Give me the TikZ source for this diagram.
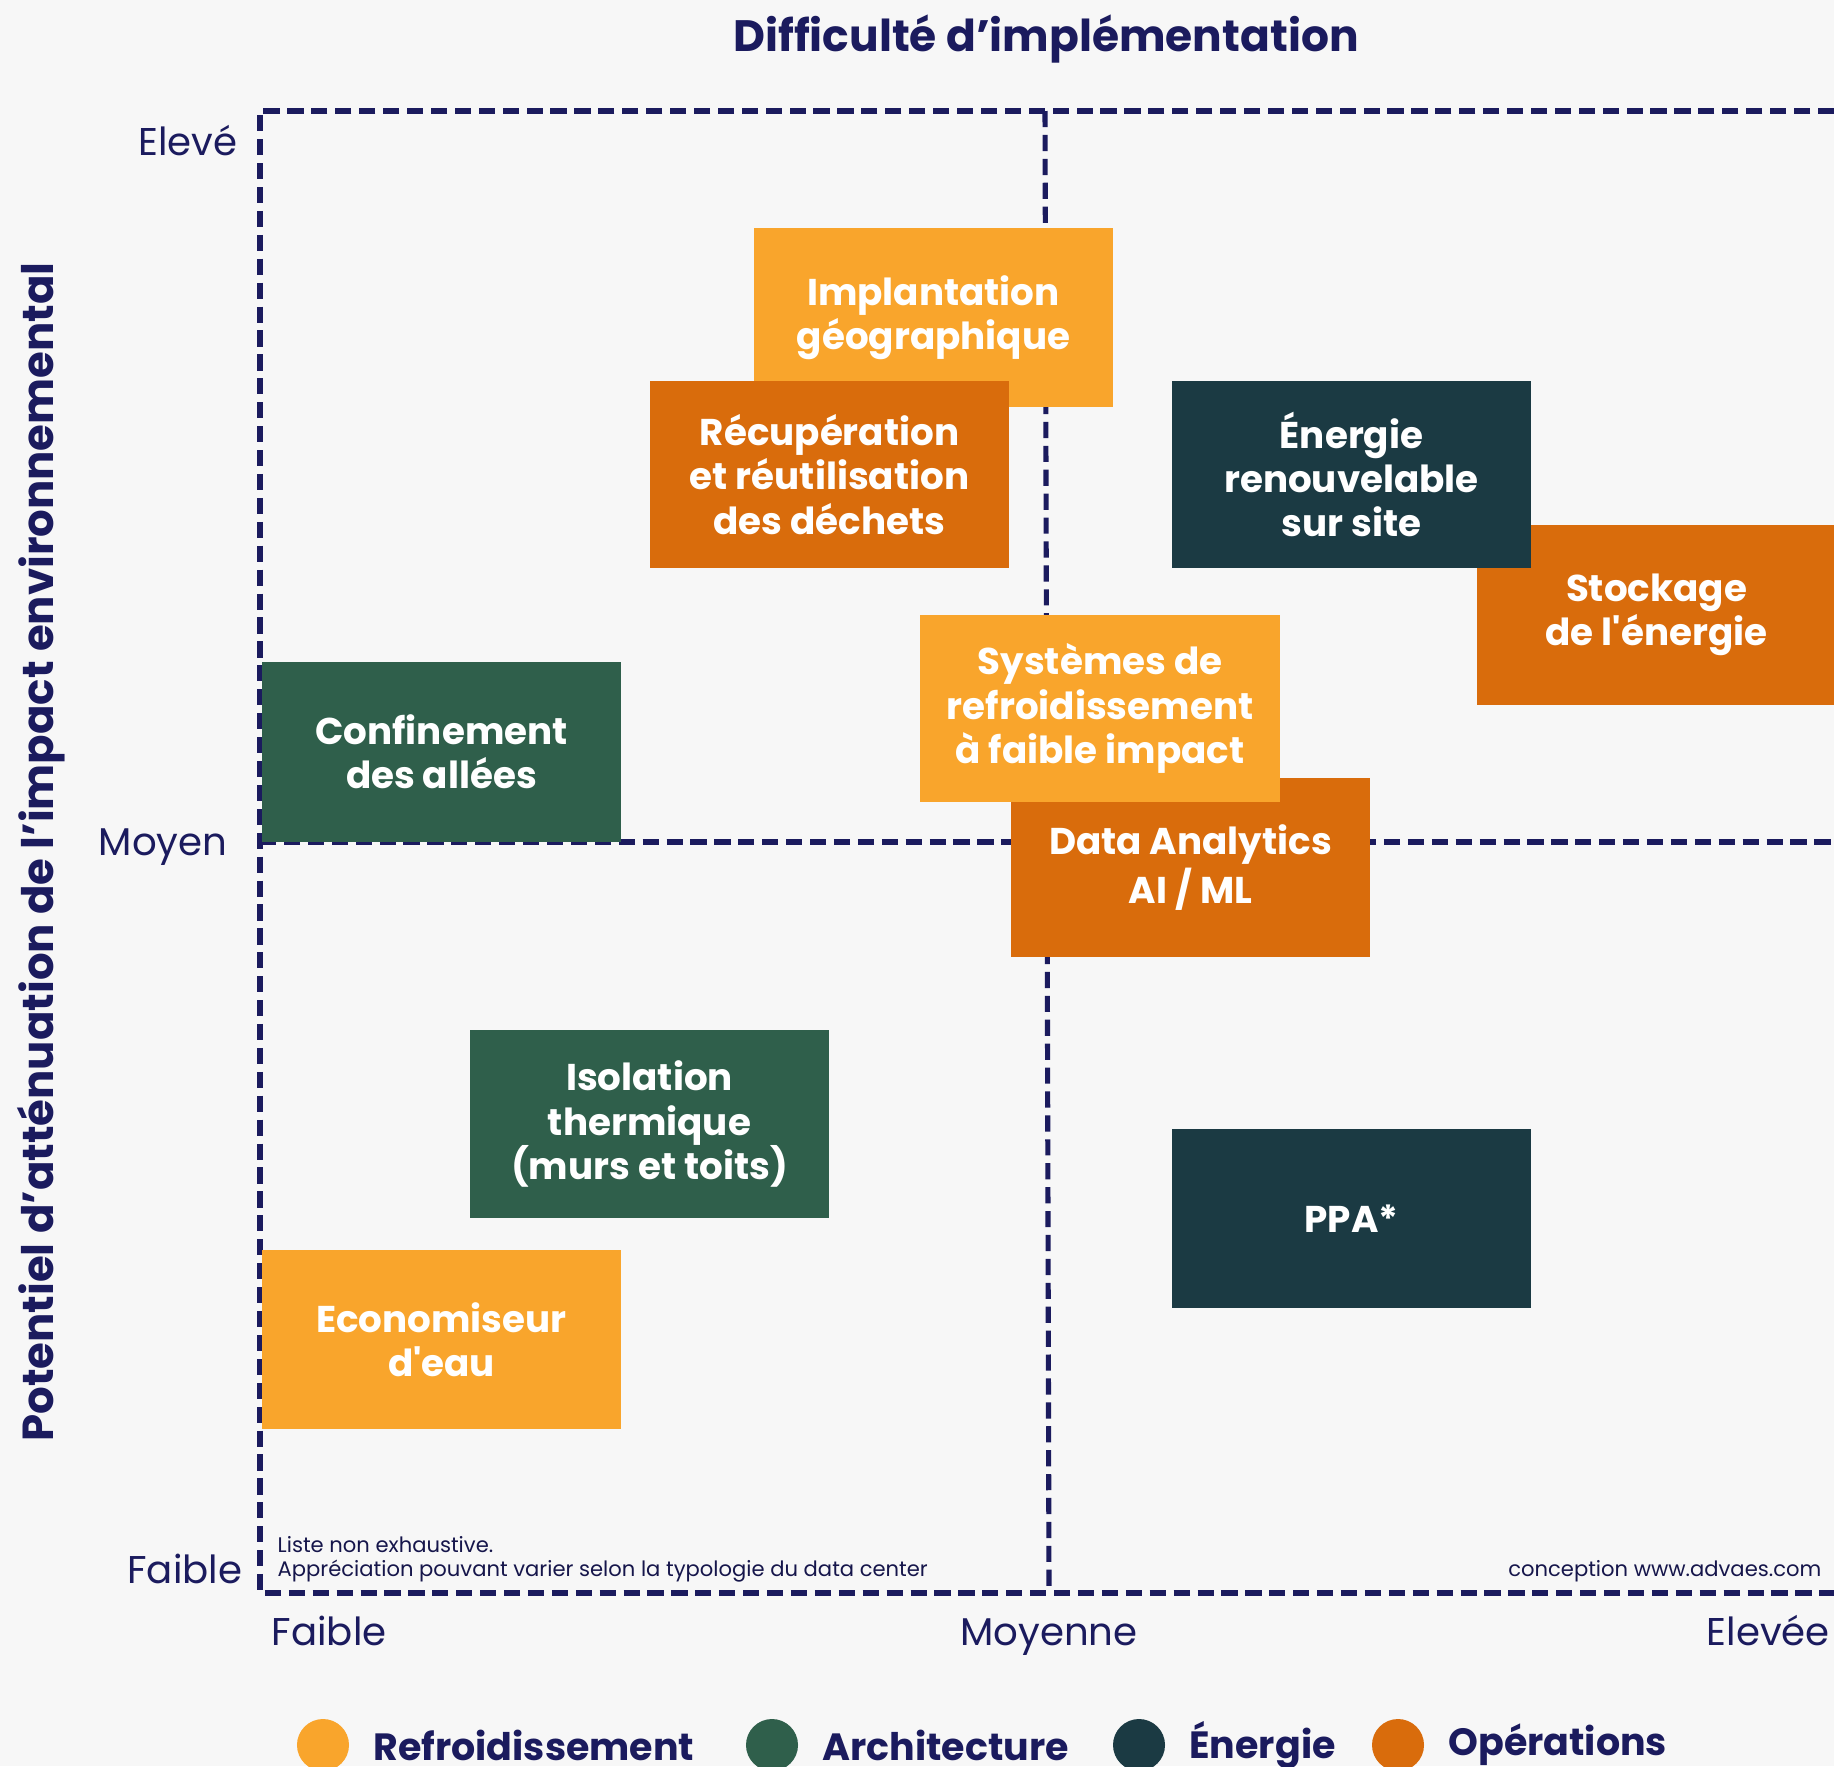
\documentclass[tikz,border=0pt]{standalone}
\usepackage{fontspec}
\setmainfont{Poppins}
\definecolor{navy}{HTML}{1B1B5E}
\definecolor{paper}{HTML}{F7F7F7}
\definecolor{refroid}{HTML}{F9A52C}
\definecolor{archi}{HTML}{2F5F4B}
\definecolor{energ}{HTML}{1B3A43}
\definecolor{operat}{HTML}{D96C0C}

\begin{document}
\begin{tikzpicture}[x=0.01cm,y=-0.01cm,
    box/.style={minimum width=3.59cm, minimum height=1.79cm, inner sep=0pt,
      align=center, text=white, font=\fontsize{10.6}{12.6}\selectfont\bfseries},
    tallbox/.style={box, minimum height=1.87cm},
    quad/.style={navy, line width=1.45pt, dash pattern=on 4.6pt off 2.2pt},
    axislabel/.style={text=navy, inner sep=0pt, font=\fontsize{11}{13}\selectfont},
    note/.style={text=navy!80!black, inner sep=0pt, font=\fontsize{6}{7}\selectfont, align=left},
    legendtext/.style={text=navy, font=\fontsize{10.8}{13}\selectfont\bfseries, anchor=west}]
\fill[paper] (0,0) rectangle (1834,1766);
\useasboundingbox (0,0) rectangle (1834,1766);

% titles
\node[text=navy, font=\fontsize{12.5}{15}\selectfont\bfseries] (xtitle) at (1046,39) {Difficulté d’implémentation};
\node[text=navy, font=\fontsize{12.35}{15}\selectfont\bfseries, rotate=90] (ytitle) at (41,852) {Potentiel d’atténuation de l’impact environnemental};

% quadrant lines
\coordinate (tl) at (260,111);
\coordinate (tr) at (1834,111);
\coordinate (bl) at (260,1593);
\coordinate (br) at (1834,1593);
\draw[quad] (tr) -- (tl) -- (bl) -- (br);
\draw[quad] (1045,111) -- (1049,1593);
\draw[quad] (260,842) -- (1834,842);

% axis values
\node[axislabel, anchor=east] (yhigh) at (238,141) {Elevé};
\node[axislabel, anchor=east] (ymid) at (228,847) {Moyen};
\node[axislabel, anchor=east] (ylow) at (243,1569) {Faible};
\node[axislabel, anchor=west] (xlow) at (271,1631) {Faible};
\node[axislabel] (xmid) at (1049,1637) {Moyenne};
\node[axislabel, anchor=west] (xhigh) at (1706,1631) {Elevée};

% notes
\node[note, anchor=south west] (notes) at (277,1583) {Liste non exhaustive.\\Appréciation pouvant varier selon la typologie du data center};
\node[note, anchor=south east] (credit) at (1822,1583) {conception www.advaes.com};

% measures
\node[box, fill=refroid] (impl) at (933.5,317.5) {Implantation\\géographique};
\node[tallbox, fill=operat] (recup) at (829.5,474.5) {Récupération\\et réutilisation\\des déchets};
\node[box, fill=operat] (stock) at (1656.5,615) {Stockage\\de l\textquotesingle énergie};
\node[tallbox, fill=energ] (renouv) at (1351.5,474.5) {Énergie\\renouvelable\\sur site};
\node[box, fill=archi] (confin) at (441.5,752) {Confinement\\des allées};
\node[box, fill=operat] (data) at (1190.5,867.5) {Data Analytics\\AI / ML};
\node[tallbox, fill=refroid] (froid) at (1100,708.5) {Systèmes de\\refroidissement\\à faible impact};
\node[tallbox, fill=archi] (isol) at (649.5,1124) {Isolation\\thermique\\(murs et toits)};
\node[box, fill=energ] (ppa) at (1351.5,1218.5) {PPA*};
\node[box, fill=refroid] (eco) at (441.5,1339.5) {Economiseur\\d\textquotesingle eau};

% legend
\foreach \cx/\col/\name in {323/refroid/Refroidissement, 772/archi/Architecture, 1139/energ/Énergie, 1398/operat/Opérations} {
    \fill[\col] (\cx,1745) circle (0.26cm);
    \node[legendtext] at (\cx+38,1745) {\name};
  }
\end{tikzpicture}
\end{document}
